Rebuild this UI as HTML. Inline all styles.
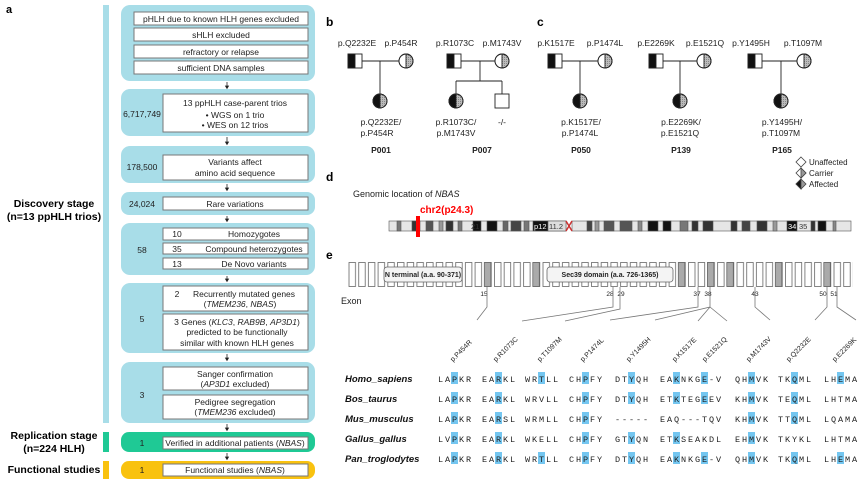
<!DOCTYPE html>
<html><head><meta charset="utf-8"><style>
html,body{margin:0;padding:0;background:#fff;}
svg{display:block;font-family:"Liberation Sans",Arial,sans-serif;}
</style></head><body>
<svg width="864" height="481" viewBox="0 0 864 481" xmlns="http://www.w3.org/2000/svg">
<defs>
<pattern id="ex" x="348.5" y="0" width="9.7" height="481" patternUnits="userSpaceOnUse">
<rect x="0.5" y="262.5" width="6.5" height="24" fill="#fff" stroke="#666" stroke-width="0.8"/>
</pattern>
<pattern id="hatch" width="2" height="2" patternUnits="userSpaceOnUse"><rect width="2" height="2" fill="#bbb"/><rect width="1" height="1" fill="#888"/></pattern>
</defs>

<!-- Panel a -->
<text x="6" y="13" font-size="11" font-weight="bold">a</text>
<rect x="103" y="5" width="6" height="418" fill="#a8dde8"/>
<rect x="103" y="432" width="6" height="20" fill="#1fc995"/>
<rect x="103" y="461" width="6" height="18" fill="#f9c20f"/>
<g font-size="10.5" font-weight="bold" text-anchor="middle">
<text x="54" y="207">Discovery stage</text>
<text x="54" y="220">(n=13 ppHLH trios)</text>
<text x="54" y="439">Replication stage</text>
<text x="54" y="452">(n=224 HLH)</text>
<text x="54" y="473">Functional studies</text>
</g>
<g fill="#a8dde8">
<rect x="121" y="5" width="194" height="76" rx="9"/>
<rect x="121" y="89" width="194" height="47" rx="9"/>
<rect x="121" y="146" width="194" height="37" rx="9"/>
<rect x="121" y="192" width="194" height="23" rx="8"/>
<rect x="121" y="223" width="194" height="52" rx="9"/>
<rect x="121" y="283" width="194" height="70" rx="9"/>
<rect x="121" y="362" width="194" height="61" rx="9"/>
<rect x="121" y="432" width="194" height="20" rx="8" fill="#1fc995"/>
<rect x="121" y="461" width="194" height="18" rx="8" fill="#f9c20f"/>
</g>
<g fill="#fff" stroke="#777" stroke-width="1">
<rect x="134" y="12" width="174" height="13"/>
<rect x="134" y="28" width="174" height="13"/>
<rect x="134" y="45" width="174" height="13"/>
<rect x="134" y="61" width="174" height="13"/>
<rect x="163" y="94" width="145" height="38"/>
<rect x="163" y="155" width="145" height="25"/>
<rect x="163" y="197" width="145" height="13"/>
<rect x="163" y="228" width="145" height="12"/>
<rect x="163" y="243" width="145" height="11"/>
<rect x="163" y="258" width="145" height="11"/>
<rect x="163" y="286" width="145" height="25"/>
<rect x="163" y="314" width="145" height="36"/>
<rect x="163" y="367" width="145" height="23"/>
<rect x="163" y="395" width="145" height="24"/>
<rect x="163" y="437" width="145" height="12"/>
<rect x="163" y="464" width="145" height="12"/>
</g>
<g font-size="8.5" text-anchor="middle" fill="#222">
<text x="221" y="22">pHLH due to known HLH genes excluded</text>
<text x="221" y="38">sHLH excluded</text>
<text x="221" y="55">refractory or relapse</text>
<text x="221" y="71">sufficient DNA samples</text>
<text x="235" y="106">13 ppHLH case-parent trios</text>
<text x="235" y="118">• WGS on 1 trio</text>
<text x="235" y="128">• WES on 12 trios</text>
<text x="142" y="117">6,717,749</text>
<text x="235" y="165">Variants affect</text>
<text x="235" y="176">amino acid sequence</text>
<text x="142" y="170">178,500</text>
<text x="235" y="207">Rare variations</text>
<text x="142" y="207">24,024</text>
<text x="142" y="253">58</text>
<text x="177" y="237">10</text><text x="254" y="237">Homozygotes</text>
<text x="177" y="252">35</text><text x="254" y="252">Compound heterozygotes</text>
<text x="177" y="267">13</text><text x="254" y="267">De Novo variants</text>
<text x="142" y="322">5</text>
<text x="177" y="297">2</text><text x="244" y="297">Recurrently mutated genes</text>
<text x="240" y="307">(<tspan font-style="italic">TMEM236</tspan>, <tspan font-style="italic">NBAS</tspan>)</text>
<text x="237" y="325">3  Genes (<tspan font-style="italic">KLC3</tspan>, <tspan font-style="italic">RAB9B</tspan>, <tspan font-style="italic">AP3D1</tspan>)</text>
<text x="237" y="335">predicted to be functionally</text>
<text x="237" y="346">similar with known HLH genes</text>
<text x="142" y="398">3</text>
<text x="235" y="377">Sanger confirmation</text>
<text x="235" y="387">(<tspan font-style="italic">AP3D1</tspan> excluded)</text>
<text x="235" y="405">Pedigree segregation</text>
<text x="235" y="415">(<tspan font-style="italic">TMEM236</tspan> excluded)</text>
<text x="142" y="446">1</text>
<text x="235" y="446">Verified in additional patients (<tspan font-style="italic">NBAS</tspan>)</text>
<text x="142" y="473">1</text>
<text x="235" y="473">Functional studies (<tspan font-style="italic">NBAS</tspan>)</text>
</g>
<g stroke="#222" stroke-width="0.8" fill="#222">
<line x1="227" y1="82" x2="227" y2="87"/><path d="M225.5 86 L228.5 86 L227 88.5Z"/>
<line x1="227" y1="137" x2="227" y2="143"/><path d="M225.5 142 L228.5 142 L227 144.5Z"/>
<line x1="227" y1="184" x2="227" y2="189"/><path d="M225.5 188 L228.5 188 L227 190.5Z"/>
<line x1="227" y1="216" x2="227" y2="220"/><path d="M225.5 219 L228.5 219 L227 221.5Z"/>
<line x1="227" y1="276" x2="227" y2="280"/><path d="M225.5 279 L228.5 279 L227 281.5Z"/>
<line x1="227" y1="354" x2="227" y2="359"/><path d="M225.5 358 L228.5 358 L227 360.5Z"/>
<line x1="227" y1="424" x2="227" y2="429"/><path d="M225.5 428 L228.5 428 L227 430.5Z"/>
<line x1="227" y1="453" x2="227" y2="458"/><path d="M225.5 457 L228.5 457 L227 459.5Z"/>
</g>

<!-- Panels b, c -->
<g font-size="12" font-weight="bold"><text x="326" y="26">b</text><text x="537" y="26">c</text><text x="326" y="181">d</text><text x="326" y="259">e</text></g>
<g stroke="#222" stroke-width="0.9" fill="none">
<line x1="362" y1="61" x2="399" y2="61"/><line x1="380" y1="61" x2="380" y2="94"/>
<line x1="461" y1="61" x2="495" y2="61"/><line x1="480" y1="61" x2="480" y2="81"/><line x1="456" y1="81" x2="502" y2="81"/><line x1="456" y1="81" x2="456" y2="94"/><line x1="502" y1="81" x2="502" y2="94"/>
<line x1="562" y1="61" x2="598" y2="61"/><line x1="580" y1="61" x2="580" y2="94"/>
<line x1="663" y1="61" x2="697" y2="61"/><line x1="680" y1="61" x2="680" y2="94"/>
<line x1="762" y1="61" x2="797" y2="61"/><line x1="781" y1="61" x2="781" y2="94"/>
</g>
<g stroke="#222" stroke-width="0.9">
<g transform="translate(348,54)"><rect width="14" height="14" fill="#fff"/><rect width="7" height="14" fill="#111"/></g>
<g transform="translate(447,54)"><rect width="14" height="14" fill="#fff"/><rect width="7" height="14" fill="#111"/></g>
<g transform="translate(548,54)"><rect width="14" height="14" fill="#fff"/><rect width="7" height="14" fill="#111"/></g>
<g transform="translate(649,54)"><rect width="14" height="14" fill="#fff"/><rect width="7" height="14" fill="#111"/></g>
<g transform="translate(748,54)"><rect width="14" height="14" fill="#fff"/><rect width="7" height="14" fill="#111"/></g>
<rect x="495" y="94" width="14" height="14" fill="#fff"/>
</g>
<g stroke="#222" stroke-width="0.9">
<g transform="translate(406,61)"><circle r="7" fill="#fff"/><path d="M0 -7 A7 7 0 0 1 0 7Z" fill="url(#hatch)"/><circle r="7" fill="none"/></g>
<g transform="translate(502,61)"><circle r="7" fill="#fff"/><path d="M0 -7 A7 7 0 0 1 0 7Z" fill="url(#hatch)"/><circle r="7" fill="none"/></g>
<g transform="translate(605,61)"><circle r="7" fill="#fff"/><path d="M0 -7 A7 7 0 0 1 0 7Z" fill="url(#hatch)"/><circle r="7" fill="none"/></g>
<g transform="translate(704,61)"><circle r="7" fill="#fff"/><path d="M0 -7 A7 7 0 0 1 0 7Z" fill="url(#hatch)"/><circle r="7" fill="none"/></g>
<g transform="translate(804,61)"><circle r="7" fill="#fff"/><path d="M0 -7 A7 7 0 0 1 0 7Z" fill="url(#hatch)"/><circle r="7" fill="none"/></g>
<g transform="translate(380,101)"><circle r="7" fill="url(#hatch)"/><path d="M0 -7 A7 7 0 0 0 0 7Z" fill="#111"/><circle r="7" fill="none"/></g>
<g transform="translate(456,101)"><circle r="7" fill="url(#hatch)"/><path d="M0 -7 A7 7 0 0 0 0 7Z" fill="#111"/><circle r="7" fill="none"/></g>
<g transform="translate(580,101)"><circle r="7" fill="url(#hatch)"/><path d="M0 -7 A7 7 0 0 0 0 7Z" fill="#111"/><circle r="7" fill="none"/></g>
<g transform="translate(680,101)"><circle r="7" fill="url(#hatch)"/><path d="M0 -7 A7 7 0 0 0 0 7Z" fill="#111"/><circle r="7" fill="none"/></g>
<g transform="translate(781,101)"><circle r="7" fill="url(#hatch)"/><path d="M0 -7 A7 7 0 0 0 0 7Z" fill="#111"/><circle r="7" fill="none"/></g>
</g>
<g font-size="8.5" text-anchor="middle" fill="#222">
<text x="357" y="46">p.Q2232E</text><text x="401" y="46">p.P454R</text>
<text x="455" y="46">p.R1073C</text><text x="502" y="46">p.M1743V</text>
<text x="556" y="46">p.K1517E</text><text x="605" y="46">p.P1474L</text>
<text x="656" y="46">p.E2269K</text><text x="705" y="46">p.E1521Q</text>
<text x="751" y="46">p.Y1495H</text><text x="803" y="46">p.T1097M</text>
<text x="381" y="125">p.Q2232E/</text><text x="377" y="136">p.P454R</text>
<text x="456" y="125">p.R1073C/</text><text x="456" y="136">p.M1743V</text>
<text x="502" y="125">-/-</text>
<text x="581" y="125">p.K1517E/</text><text x="580" y="136">p.P1474L</text>
<text x="681" y="125">p.E2269K/</text><text x="680" y="136">p.E1521Q</text>
<text x="782" y="125">p.Y1495H/</text><text x="781" y="136">p.T1097M</text>
<g font-weight="bold"><text x="381" y="153">P001</text><text x="482" y="153">P007</text><text x="581" y="153">P050</text><text x="681" y="153">P139</text><text x="782" y="153">P165</text></g>
</g>
<g stroke="#444" stroke-width="0.8">
<path d="M801 157 L806 162 L801 167 L796 162Z" fill="#fff"/>
<path d="M801 168 L806 173 L801 178 L796 173Z" fill="#fff"/><path d="M801 168 L806 173 L801 178Z" fill="#999"/>
<path d="M801 179 L806 184 L801 189 L796 184Z" fill="#999"/><path d="M801 179 L796 184 L801 189Z" fill="#111"/>
</g>
<g font-size="8" fill="#222"><text x="809" y="165">Unaffected</text><text x="809" y="176">Carrier</text><text x="809" y="187">Affected</text></g>

<!-- Panel d -->
<text x="353" y="197" font-size="9" fill="#222">Genomic location of <tspan font-style="italic">NBAS</tspan></text>
<g stroke="#555" stroke-width="0.6">
<rect x="389" y="221" width="177" height="10" fill="#e6e6e6"/>
<rect x="572" y="221" width="279" height="10" fill="#e6e6e6"/>
<rect x="397" y="221" width="4" height="10" fill="#777"/>
<rect x="412" y="221" width="8" height="10" fill="#333"/>
<rect x="426" y="221" width="7" height="10" fill="#555"/>
<rect x="439" y="221" width="4" height="10" fill="#999"/>
<rect x="446" y="221" width="7" height="10" fill="#333"/>
<rect x="458" y="221" width="4" height="10" fill="#777"/>
<rect x="473" y="221" width="8" height="10" fill="#111"/>
<rect x="487" y="221" width="10" height="10" fill="#111"/>
<rect x="503" y="221" width="5" height="10" fill="#666"/>
<rect x="511" y="221" width="10" height="10" fill="#444"/>
<rect x="524" y="221" width="5" height="10" fill="#777"/>
<rect x="533" y="221" width="15" height="10" fill="#111"/>
<rect x="548" y="221" width="18" height="10" fill="#ddd"/>
<rect x="587" y="221" width="5" height="10" fill="#444"/>
<rect x="595" y="221" width="4" height="10" fill="#999"/>
<rect x="604" y="221" width="10" height="10" fill="#555"/>
<rect x="620" y="221" width="12" height="10" fill="#555"/>
<rect x="638" y="221" width="4" height="10" fill="#888"/>
<rect x="648" y="221" width="10" height="10" fill="#111"/>
<rect x="663" y="221" width="8" height="10" fill="#111"/>
<rect x="680" y="221" width="8" height="10" fill="#777"/>
<rect x="692" y="221" width="6" height="10" fill="#333"/>
<rect x="703" y="221" width="10" height="10" fill="#333"/>
<rect x="731" y="221" width="6" height="10" fill="#333"/>
<rect x="742" y="221" width="8" height="10" fill="#444"/>
<rect x="757" y="221" width="10" height="10" fill="#333"/>
<rect x="773" y="221" width="4" height="10" fill="#999"/>
<rect x="787" y="221" width="10" height="10" fill="#111"/>
<rect x="811" y="221" width="4" height="10" fill="#333"/>
<rect x="818" y="221" width="8" height="10" fill="#111"/>
<rect x="833" y="221" width="3" height="10" fill="#888"/>
</g>
<path d="M566 221 L572 231 M566 231 L572 221" stroke="#c33" stroke-width="1.5"/>
<g font-size="7.5" fill="#333"><text x="471" y="229">21</text><text x="534" y="229" fill="#fff">p12</text><text x="549" y="229">11.2</text><text x="788" y="229" fill="#fff">34</text><text x="799" y="229">35</text></g>
<rect x="416" y="216" width="4" height="21" fill="#f00"/>
<text x="420" y="213" font-size="10" font-weight="bold" fill="#f00">chr2(p24.3)</text>

<!-- Panel e -->
<rect x="348" y="260" width="505" height="30" fill="url(#ex)"/>
<g fill="#aaa" stroke="#666" stroke-width="0.8">
<rect x="484.3" y="262.5" width="6.5" height="24"/><rect x="532.8" y="262.5" width="6.5" height="24"/>
<rect x="678.3" y="262.5" width="6.5" height="24"/><rect x="707.4" y="262.5" width="6.5" height="24"/>
<rect x="726.8" y="262.5" width="6.5" height="24"/><rect x="775.3" y="262.5" width="6.5" height="24"/>
<rect x="823.8" y="262.5" width="6.5" height="24"/>
</g>
<g stroke="#666" stroke-width="0.8" fill="#f4f4f4">
<rect x="384" y="267" width="78" height="15" rx="3"/>
<rect x="547" y="267" width="126" height="15" rx="3"/>
</g>
<g font-size="7" font-weight="bold" fill="#222" text-anchor="middle"><text x="423" y="277">N terminal (a.a. 90-371)</text><text x="610" y="277">Sec39 domain (a.a. 726-1365)</text></g>
<text x="341" y="304" font-size="9" fill="#222">Exon</text>
<g font-size="6.5" fill="#222" text-anchor="middle">
<text x="484" y="296">15</text><text x="610" y="296">28</text><text x="621" y="296">29</text><text x="697" y="296">37</text><text x="708" y="296">38</text><text x="755" y="296">43</text><text x="823" y="296">50</text><text x="834" y="296">51</text>
</g>
<g stroke="#777" stroke-width="0.8" fill="none">
<path d="M487 287 V307 L477 320"/>
<path d="M613 287 V307 L522 321"/>
<path d="M620 287 V309 L565 321"/>
<path d="M698 287 V307 L610 320"/>
<path d="M710 287 V307 L655 320 M710 307 L698 321 M710 307 L727 321"/>
<path d="M755 287 V307 L770 320"/>
<path d="M827 287 V307 L815 320"/>
<path d="M837 287 V307 L856 320"/>
</g>
<g font-size="7" fill="#222">
<text transform="translate(453,362) rotate(-45)">p.P454R</text>
<text transform="translate(496,362) rotate(-45)">p.R1073C</text>
<text transform="translate(540,362) rotate(-45)">p.T1097M</text>
<text transform="translate(583,362) rotate(-45)">p.P1474L</text>
<text transform="translate(629,362) rotate(-45)">p.Y1495H</text>
<text transform="translate(675,362) rotate(-45)">p.K1517E</text>
<text transform="translate(705,362) rotate(-45)">p.E1521Q</text>
<text transform="translate(749,362) rotate(-45)">p.M1743V</text>
<text transform="translate(789,362) rotate(-45)">p.Q2232E</text>
<text transform="translate(835,362) rotate(-45)">p.E2269K</text>
</g>
<g fill="#74c6f0">
<rect x="451" y="372" width="7" height="12"/><rect x="495" y="372" width="7" height="12"/><rect x="538" y="372" width="7" height="12"/><rect x="582" y="372" width="7" height="12"/><rect x="628" y="372" width="7" height="12"/><rect x="673" y="372" width="7" height="12"/><rect x="701" y="372" width="7" height="12"/><rect x="748" y="372" width="7" height="12"/><rect x="791" y="372" width="7" height="12"/><rect x="837" y="372" width="7" height="12"/>
<rect x="451" y="392" width="7" height="12"/><rect x="495" y="392" width="7" height="12"/><rect x="582" y="392" width="7" height="12"/><rect x="628" y="392" width="7" height="12"/><rect x="673" y="392" width="7" height="12"/><rect x="701" y="392" width="7" height="12"/><rect x="748" y="392" width="7" height="12"/><rect x="791" y="392" width="7" height="12"/>
<rect x="451" y="412" width="7" height="12"/><rect x="495" y="412" width="7" height="12"/><rect x="582" y="412" width="7" height="12"/><rect x="748" y="412" width="7" height="12"/><rect x="791" y="412" width="7" height="12"/>
<rect x="451" y="432" width="7" height="12"/><rect x="495" y="432" width="7" height="12"/><rect x="582" y="432" width="7" height="12"/><rect x="628" y="432" width="7" height="12"/><rect x="673" y="432" width="7" height="12"/><rect x="748" y="432" width="7" height="12"/>
<rect x="451" y="452" width="7" height="12"/><rect x="495" y="452" width="7" height="12"/><rect x="538" y="452" width="7" height="12"/><rect x="582" y="452" width="7" height="12"/><rect x="628" y="452" width="7" height="12"/><rect x="673" y="452" width="7" height="12"/><rect x="701" y="452" width="7" height="12"/><rect x="748" y="452" width="7" height="12"/><rect x="791" y="452" width="7" height="12"/><rect x="837" y="452" width="7" height="12"/>
</g>
<g font-size="9.5" font-weight="bold" font-style="italic" fill="#111">
<text x="345" y="382">Homo_sapiens</text><text x="345" y="402">Bos_taurus</text><text x="345" y="422">Mus_musculus</text><text x="345" y="442">Gallus_gallus</text><text x="345" y="462">Pan_troglodytes</text>
</g>
<g font-family="Liberation Mono, monospace" font-size="8.5" letter-spacing="1.9" fill="#222">
<text x="438" y="382">LAPKR</text><text x="482" y="382">EARKL</text><text x="525" y="382">WRTLL</text><text x="569" y="382">CHPFY</text><text x="615" y="382">DTYQH</text><text x="660" y="382">EAKNKGE-V</text><text x="735" y="382">QHMVK</text><text x="778" y="382">TKQML</text><text x="824" y="382">LHEMA</text>
<text x="438" y="402">LAPKR</text><text x="482" y="402">EARKL</text><text x="525" y="402">WRVLL</text><text x="569" y="402">CHPFY</text><text x="615" y="402">DTYQH</text><text x="660" y="402">ETKTEGEEV</text><text x="735" y="402">KHMVK</text><text x="778" y="402">TEQML</text><text x="824" y="402">LHTMA</text>
<text x="438" y="422">LAPKR</text><text x="482" y="422">EARSL</text><text x="525" y="422">WRMLL</text><text x="569" y="422">CHPFY</text><text x="615" y="422">-----</text><text x="660" y="422">EAQ---TQV</text><text x="735" y="422">KHMVK</text><text x="778" y="422">TTQML</text><text x="824" y="422">LQAMA</text>
<text x="438" y="442">LVPKR</text><text x="482" y="442">EARKL</text><text x="525" y="442">WKELL</text><text x="569" y="442">CHPFY</text><text x="615" y="442">GTYQN</text><text x="660" y="442">ETKSEAKDL</text><text x="735" y="442">EHMVK</text><text x="778" y="442">TKYKL</text><text x="824" y="442">LHTMA</text>
<text x="438" y="462">LAPKR</text><text x="482" y="462">EARKL</text><text x="525" y="462">WRTLL</text><text x="569" y="462">CHPFY</text><text x="615" y="462">DTYQH</text><text x="660" y="462">EAKNKGE-V</text><text x="735" y="462">QHMVK</text><text x="778" y="462">TKQML</text><text x="824" y="462">LHEMA</text>
</g>
</svg>
</body></html>
